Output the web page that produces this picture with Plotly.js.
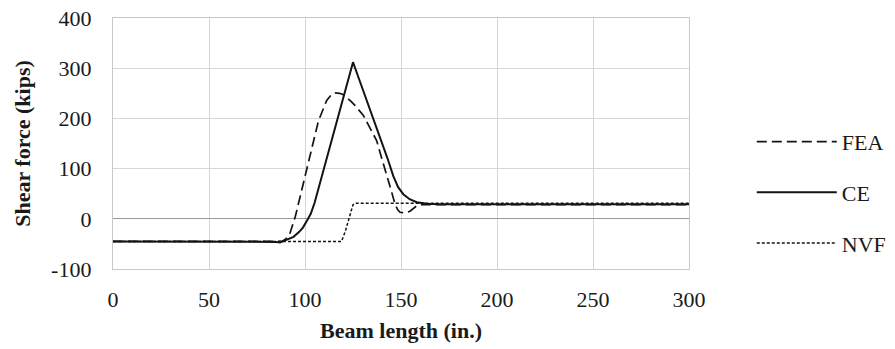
<!DOCTYPE html>
<html>
<head>
<meta charset="utf-8">
<script src="https://cdn.plot.ly/plotly-3.0.1.min.js"></script>
<style>
  html, body { margin: 0; padding: 0; background: #ffffff; }
</style>
</head>
<body>
<div id="chart"></div>
<script>
// Shear force along the beam: finite element analysis, CE and NVF predictions
const feaX = [0, 80, 86, 88, 90, 92, 95, 97.4, 100, 103.5, 107, 111.3, 113.5, 115.6, 118, 120, 122, 124, 126, 128, 130.4, 133, 135, 137.3, 140, 142.5, 145, 146.9, 148.3, 149.5, 152, 154.7, 156.5, 158.2, 161, 165, 200, 250, 300];
const feaY = [-45, -45, -46, -45, -40, -31, 5, 43, 90, 143, 195, 236, 246, 251, 250, 247, 241, 234, 226, 217, 206, 187, 172, 156, 120, 89, 55, 29, 18, 13, 12, 15, 20, 26, 28, 28, 28, 28, 28];

const ceX = [0, 80, 85, 87, 90, 94, 97, 99, 101, 103, 105, 110, 115, 120, 125, 128, 132, 136, 140, 143, 146, 148.5, 151.2, 154.5, 158.2, 163.4, 170, 200, 250, 300];
const ceY = [-45, -45, -46, -47, -42, -36, -26, -17, -4, 10, 32, 102, 172, 242, 312, 280, 238, 196, 155, 120, 85, 63, 49, 39, 33, 30, 29, 29, 29, 29];

const nvfX = [0, 80, 87, 119, 121, 123.5, 125, 126.5, 150, 200, 250, 300];
const nvfY = [-45, -45, -46, -45, -25, 10, 28, 31, 31, 31, 31, 31];

const xTicks = [0, 50, 100, 150, 200, 250, 300];
const yTicks = [-100, 0, 100, 200, 300, 400];

const fontFamily = 'Liberation Serif';
const ink = '#141414';
const textInk = '#1a1a1a';

const traces = [
  { x: feaX, y: feaY, name: 'FEA', legendgroup: 'a', mode: 'lines',
    line: { color: ink, width: 1.7, dash: '10px,5px' } },
  { x: ceX, y: ceY, name: 'CE', legendgroup: 'b', mode: 'lines',
    line: { color: ink, width: 2 } },
  { x: nvfX, y: nvfY, name: 'NVF', legendgroup: 'c', mode: 'lines',
    line: { color: ink, width: 1.5, dash: '3px,2px' } }
];

const layout = {
  width: 895, height: 349,
  margin: { l: 113, r: 206, t: 18, b: 80, autoexpand: false },
  paper_bgcolor: '#ffffff', plot_bgcolor: '#ffffff',
  font: { family: fontFamily, size: 22, color: textInk },
  showlegend: true,
  legend: {
    x: 1.109, y: 0.59, xanchor: 'left', yanchor: 'top',
    traceorder: 'grouped', tracegroupgap: 19,
    itemwidth: 80,
    font: { family: fontFamily, size: 22, color: textInk },
    bgcolor: 'rgba(0,0,0,0)'
  },
  xaxis: {
    range: [0, 300], tickvals: xTicks, ticktext: xTicks.map(String),
    showgrid: true, gridcolor: '#d6d6d6', gridwidth: 1.3,
    zeroline: false, showline: true, linecolor: '#c8c8c8', linewidth: 1.3, mirror: true,
    ticks: '', ticklabelstandoff: 10,
    tickfont: { family: fontFamily, size: 22, color: textInk },
    title: { text: '<b>Beam length (in.)</b>', font: { family: fontFamily, size: 22, color: textInk }, standoff: 12 }
  },
  yaxis: {
    range: [-100, 400], tickvals: yTicks, ticktext: yTicks.map(String),
    showgrid: true, gridcolor: '#d6d6d6', gridwidth: 1.3,
    zeroline: true, zerolinecolor: '#9a9a9a', zerolinewidth: 1.3,
    showline: true, linecolor: '#c8c8c8', linewidth: 1.3, mirror: true,
    ticks: '', ticklabelstandoff: 16,
    tickfont: { family: fontFamily, size: 22, color: textInk },
    title: { text: '<b>Shear force (kips)</b>', font: { family: fontFamily, size: 22, color: textInk }, standoff: 14 }
  }
};

Plotly.newPlot('chart', traces, layout, { displayModeBar: false });
</script>
</body>
</html>
